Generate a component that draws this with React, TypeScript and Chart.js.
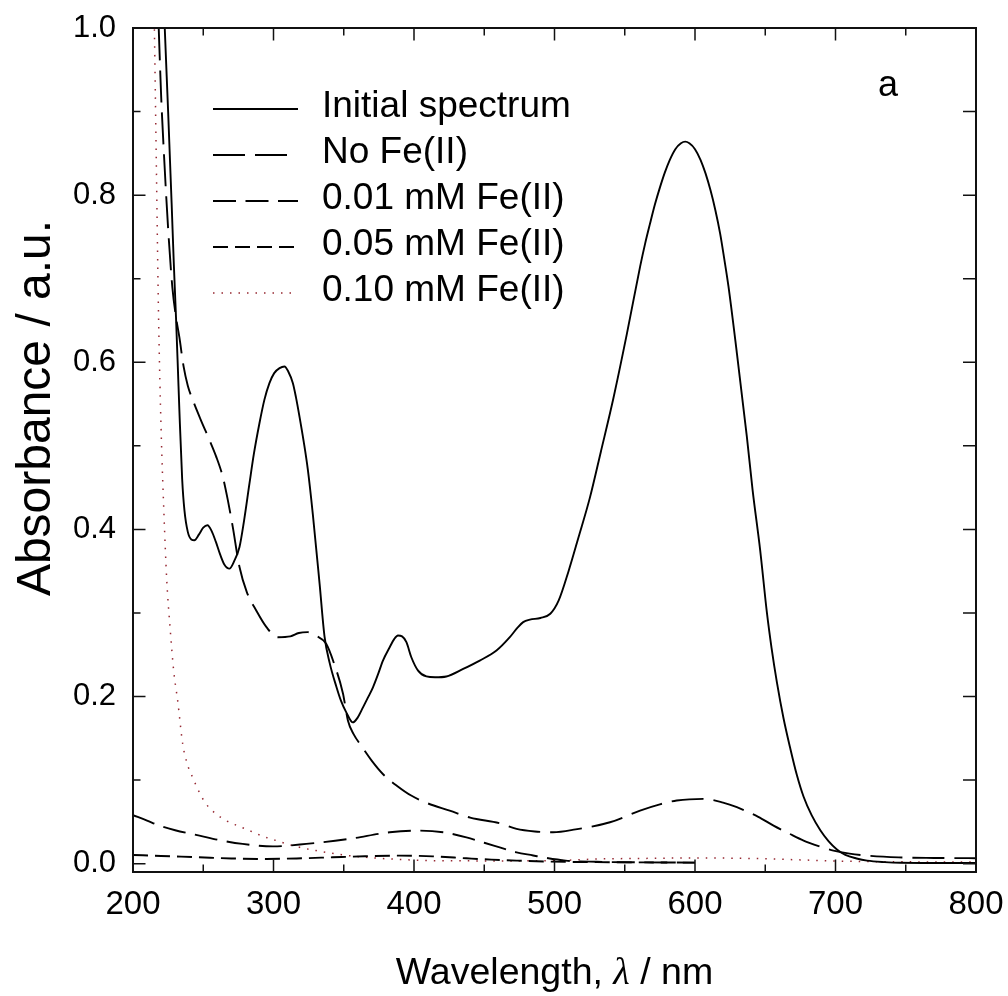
import React, { useEffect, useRef } from 'react';
import { Chart, registerables } from 'chart.js';
Chart.register(...registerables);

const FONT = "'Liberation Sans', Arial, sans-serif";

// [wavelength nm, absorbance]
const INITIAL_SPECTRUM = [
  [220.5, 1.1], [222.6, 1.0], [225, 0.9], [227.5, 0.79], [229, 0.72], [230.6, 0.654], [232, 0.59], [233, 0.543],
  [235, 0.46], [236.6, 0.423], [239, 0.397], [241.5, 0.388], [243.7, 0.387], [247, 0.394], [250, 0.402], [253, 0.405],
  [256, 0.398], [259, 0.385], [262, 0.37], [265, 0.358], [268.6, 0.353], [272, 0.362], [275.8, 0.379], [279, 0.41],
  [282.9, 0.455], [286, 0.49], [290, 0.527], [293.5, 0.555], [297.1, 0.575], [300.5, 0.587], [304.3, 0.593], [307.8, 0.595],
  [310.5, 0.589], [313.8, 0.575], [316, 0.558], [318.5, 0.535], [321.5, 0.505], [324.4, 0.472], [328, 0.418], [332.8, 0.335],
  [336.3, 0.272], [340, 0.24], [344.7, 0.212], [348, 0.195], [351.8, 0.181], [356.5, 0.169], [360, 0.175], [363.7, 0.187],
  [367, 0.198], [370.8, 0.211], [374.5, 0.227], [377.9, 0.243], [382.7, 0.259], [386, 0.269], [388.6, 0.273], [391.5, 0.272],
  [394.6, 0.265], [398.1, 0.247], [402.9, 0.231], [408.8, 0.224], [415, 0.223], [423, 0.224], [435, 0.233], [446.8, 0.243],
  [458.7, 0.255], [468.2, 0.271], [474, 0.283], [477.7, 0.289], [482.5, 0.292], [490, 0.294], [497, 0.299], [503, 0.315],
  [510, 0.35], [517, 0.39], [525.2, 0.438], [533, 0.493], [541.8, 0.556], [551.4, 0.633], [561, 0.715], [564.5, 0.742],
  [568, 0.766], [571.5, 0.789], [575, 0.809], [578.5, 0.827], [582, 0.842], [586, 0.855], [590, 0.862], [593, 0.864],
  [596, 0.862], [600, 0.855], [604, 0.842], [607.5, 0.826], [611, 0.806], [614.5, 0.782], [617.9, 0.754], [620.8, 0.724],
  [623.8, 0.691], [629.8, 0.611], [636.9, 0.511], [641, 0.447], [646.4, 0.375], [651.2, 0.3], [654.5, 0.258], [658.3, 0.217],
  [663, 0.174], [667.8, 0.138], [672.5, 0.106], [677.3, 0.08], [683, 0.058], [689.2, 0.04], [695, 0.027], [701, 0.017],
  [707, 0.0105], [715, 0.0062], [722.5, 0.0036], [735, 0.0018], [746, 0.001], [770, 0.0008], [800, 0.0008],
];

const NO_FE = [
  [216, 1.1], [218.3, 1.0], [220, 0.92], [222, 0.85], [225, 0.76], [228, 0.69], [230.5, 0.655], [233, 0.63],
  [236, 0.595], [239, 0.572], [242.5, 0.555], [248, 0.532], [254.4, 0.507], [259, 0.488], [263.9, 0.463], [267.5, 0.435],
  [271, 0.403], [275.8, 0.355], [281, 0.325], [287.7, 0.303], [295, 0.283], [303, 0.271], [312, 0.272], [318, 0.276],
  [324.4, 0.277], [330, 0.273], [337.5, 0.263], [343, 0.24], [349.4, 0.204], [353, 0.171], [357, 0.155], [362.5, 0.141],
  [370, 0.123], [378, 0.107], [388, 0.093], [398, 0.0815], [410, 0.072], [425.4, 0.0635], [440, 0.055], [461, 0.0483],
  [473, 0.0416], [486, 0.0385], [499, 0.0375], [515, 0.041], [539.5, 0.0495], [560.9, 0.0635], [575, 0.071], [587, 0.0755],
  [606, 0.0775], [620, 0.073], [629.8, 0.0675], [645, 0.056], [655.9, 0.0455], [667, 0.036], [677.3, 0.0276], [688, 0.021],
  [698.6, 0.0156], [710, 0.012], [722.5, 0.0096], [745, 0.0075], [770, 0.0068], [800, 0.0065],
];

const FE_001 = [
  [200, 0.058], [210, 0.0515], [218.7, 0.0455], [230, 0.04], [247.3, 0.0336], [262, 0.028], [278, 0.0236], [299.5, 0.0207],
  [323.3, 0.0236], [354, 0.0296], [382.7, 0.0375], [401.7, 0.0395], [420.7, 0.0375], [437.3, 0.0315], [450, 0.025], [461, 0.0195],
  [473, 0.0135], [484.8, 0.0098], [491.8, 0.0075], [508, 0.0036], [530, 0.0022], [560, 0.0016], [600, 0.0012],
];

const FE_005 = [
  [200, 0.0104], [220, 0.0092], [247, 0.0076], [270, 0.0062], [294.8, 0.0056], [320, 0.0064], [342, 0.0076], [365, 0.0088],
  [389.8, 0.0096], [413.5, 0.0087], [437.3, 0.0064], [455, 0.0048], [473, 0.0036], [496.7, 0.0024], [530, 0.0018], [565, 0.0015],
  [600, 0.0012],
];

const FE_010 = [
  [214, 1.1], [215.2, 1.0], [216.5, 0.85], [218.2, 0.654], [220, 0.52], [222, 0.42], [224, 0.34], [226.5, 0.28],
  [229, 0.23], [231.8, 0.195], [235.4, 0.143], [238.5, 0.12], [242.5, 0.103], [247, 0.086], [252, 0.0715], [258, 0.061],
  [266.3, 0.0515], [275, 0.045], [283, 0.0395], [292, 0.033], [302, 0.0276], [315, 0.021], [330.4, 0.0156], [347, 0.011],
  [366, 0.0075], [390, 0.005], [413.5, 0.0036], [461, 0.0033], [496.7, 0.0035], [532, 0.0056], [560, 0.0062], [600, 0.0068],
  [640, 0.0062], [675, 0.0045], [710, 0.0028], [750, 0.0022], [800, 0.0018],
];

const SERIES_LABELS = ['Initial spectrum', 'No Fe(II)', '0.01 mM Fe(II)', '0.05 mM Fe(II)', '0.10 mM Fe(II)'];
const X_TICKS = [200, 300, 400, 500, 600, 700, 800];
const X_MINOR = [250, 350, 450, 550, 650, 750];
const Y_TICKS = [0, 0.2, 0.4, 0.6, 0.8, 1.0];
const Y_MINOR = [0.1, 0.3, 0.5, 0.7, 0.9];
const X_TITLE_PARTS = ['Wavelength, ', 'λ', ' / nm'];
const Y_TITLE = 'Absorbance / a.u.';
const PANEL_LABEL = 'a';

const decorPlugin = {
  id: 'decor',
  afterDraw(chart: any) {
    const { ctx, chartArea: a, scales } = chart;
    const xs = scales.x;
    const ys = scales.y;
    ctx.save();
    // frame
    ctx.strokeStyle = '#111';
    ctx.lineWidth = 2;
    ctx.setLineDash([]);
    ctx.strokeRect(a.left, a.top, a.right - a.left, a.bottom - a.top);
    // inward ticks
    ctx.lineWidth = 1.5;
    ctx.beginPath();
    const seg = (x1: number, y1: number, x2: number, y2: number) => { ctx.moveTo(x1, y1); ctx.lineTo(x2, y2); };
    X_TICKS.forEach((v) => { const x = xs.getPixelForValue(v); seg(x, a.bottom, x, a.bottom - 12.5); seg(x, a.top, x, a.top + 12.5); });
    X_MINOR.forEach((v) => { const x = xs.getPixelForValue(v); seg(x, a.bottom, x, a.bottom - 7.5); seg(x, a.top, x, a.top + 7.5); });
    Y_TICKS.forEach((v) => { const y = ys.getPixelForValue(v); seg(a.left, y, a.left + 12.5, y); seg(a.right, y, a.right - 13, y); });
    Y_MINOR.forEach((v) => { const y = ys.getPixelForValue(v); seg(a.left, y, a.left + 7.5, y); seg(a.right, y, a.right - 13, y); });
    ctx.stroke();

    // legend
    const ds = chart.data.datasets;
    ds.forEach((d: any, i: number) => {
      const y = 109 + i * 46;
      ctx.save();
      ctx.strokeStyle = d.borderColor;
      ctx.lineWidth = d.borderWidth;
      ctx.setLineDash(d.borderDash || []);
      ctx.beginPath();
      ctx.moveTo(213, y);
      ctx.lineTo(i === 1 ? 296 : 298, y);
      ctx.stroke();
      ctx.restore();
      ctx.fillStyle = '#000';
      ctx.font = `37px ${FONT}`;
      ctx.textAlign = 'left';
      ctx.textBaseline = 'middle';
      ctx.fillText(d.label, 322, y - 2);
    });

    // panel label
    ctx.font = `36px ${FONT}`;
    ctx.textAlign = 'center';
    ctx.textBaseline = 'middle';
    ctx.fillText(PANEL_LABEL, 888, 86);

    // x title
    const fN = `37.5px ${FONT}`;
    const fI = `italic 38px 'Liberation Serif', serif`;
    ctx.font = fN; const w1 = ctx.measureText(X_TITLE_PARTS[0]).width;
    ctx.font = fI; const w2 = ctx.measureText(X_TITLE_PARTS[1]).width;
    ctx.font = fN; const w3 = ctx.measureText(X_TITLE_PARTS[2]).width;
    let x0 = (a.left + a.right) / 2 - (w1 + w2 + w3) / 2;
    ctx.textAlign = 'left';
    ctx.textBaseline = 'alphabetic';
    const by = 984;
    ctx.font = fN; ctx.fillText(X_TITLE_PARTS[0], x0, by); x0 += w1;
    ctx.font = fI; ctx.fillText(X_TITLE_PARTS[1], x0, by); x0 += w2;
    ctx.font = fN; ctx.fillText(X_TITLE_PARTS[2], x0, by);

    // y title
    ctx.translate(50, 408);
    ctx.rotate(-Math.PI / 2);
    ctx.font = `48px ${FONT}`;
    ctx.textAlign = 'center';
    ctx.textBaseline = 'alphabetic';
    ctx.fillText(Y_TITLE, 0, 0);
    ctx.restore();
  },
};

export default function App() {
  const ref = useRef<HTMLCanvasElement>(null);
  useEffect(() => {
    const toPts = (arr: number[][]) => arr.map(([x, y]) => ({ x, y }));
    const chart = new Chart(ref.current as HTMLCanvasElement, {
      type: 'line',
      data: {
        datasets: [
          { label: SERIES_LABELS[0], data: toPts(INITIAL_SPECTRUM), borderColor: '#000', borderWidth: 1.9, borderDash: [] },
          { label: SERIES_LABELS[1], data: toPts(NO_FE), borderColor: '#000', borderWidth: 1.9, borderDash: [32, 10] },
          { label: SERIES_LABELS[2], data: toPts(FE_001), borderColor: '#000', borderWidth: 1.9, borderDash: [23, 9.5] },
          { label: SERIES_LABELS[3], data: toPts(FE_005), borderColor: '#000', borderWidth: 1.9, borderDash: [15, 7] },
          { label: SERIES_LABELS[4], data: toPts(FE_010), borderColor: 'rgb(150,40,50)', borderWidth: 1.5, borderDash: [1.5, 7] },
        ] as any,
      },
      options: {
        animation: false,
        responsive: false,
        events: [],
        layout: { padding: { top: 28, right: 32, left: 0, bottom: 0 } },
        elements: { point: { radius: 0 }, line: { cubicInterpolationMode: 'monotone', fill: false } },
        plugins: { legend: { display: false }, tooltip: { enabled: false } },
        scales: {
          x: {
            type: 'linear', min: 200, max: 800,
            grid: { display: false, drawTicks: false, tickLength: 0 },
            border: { display: false },
            ticks: { font: { family: FONT, size: 33 }, color: '#000', padding: 13, maxRotation: 0, autoSkip: false },
            afterBuildTicks: (s: any) => { s.ticks = X_TICKS.map((v) => ({ value: v })); },
            afterFit: (s: any) => { s.height = 124; s.paddingLeft = 0; s.paddingRight = 0; },
          },
          y: {
            type: 'linear', min: -0.01, max: 1.0,
            grid: { display: false, drawTicks: false, tickLength: 0 },
            border: { display: false },
            ticks: { font: { family: FONT, size: 31 }, color: '#000', padding: 17, callback: (v: any) => Number(v).toFixed(1) },
            afterBuildTicks: (s: any) => { s.ticks = Y_TICKS.map((v) => ({ value: v })); },
            afterFit: (s: any) => { s.width = 133; s.paddingTop = 0; s.paddingBottom = 0; },
          },
        },
      } as any,
      plugins: [decorPlugin],
    });
    return () => chart.destroy();
  }, []);
  return (
    <div style={{ position: 'absolute', left: 0, top: 0, width: 1008, height: 996, background: '#fff' }}>
      <canvas ref={ref} width={1008} height={996} style={{ display: 'block' }} />
    </div>
  );
}
